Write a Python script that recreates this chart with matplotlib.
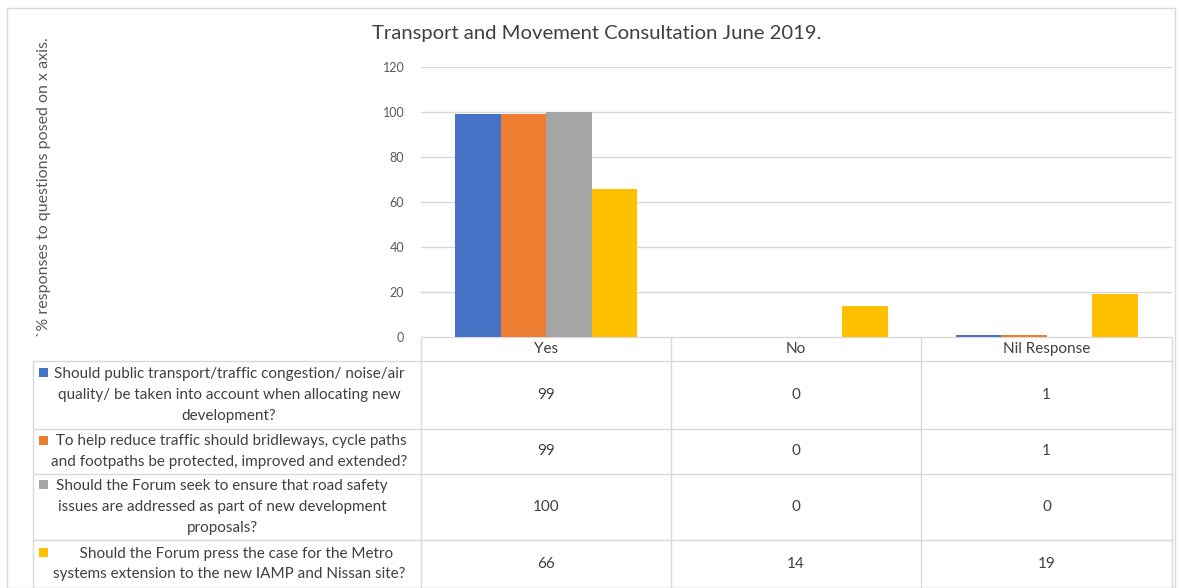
import matplotlib
matplotlib.use('Agg')
import matplotlib.pyplot as plt
import numpy as np
from matplotlib.patches import Rectangle

categories = ['Yes', 'No', 'Nil Response']
questions = [
    'Should public transport/traffic congestion/ noise/air\nquality/ be taken into account when allocating new\ndevelopment?',
    ' To help reduce traffic should bridleways, cycle paths\nand footpaths be protected, improved and extended?',
    'Should the Forum seek to ensure that road safety\nissues are addressed as part of new development\nproposals?',
    '    Should the Forum press the case for the Metro\nsystems extension to the new IAMP and Nissan site?',
]
q1 = [99, 0, 1]
q2 = [99, 0, 1]
q3 = [100, 0, 0]
q4 = [66, 14, 19]
series = [q1, q2, q3, q4]
colors = ['#4472C4', '#ED7D31', '#A5A5A5', '#FFC000']

W, H = 1181, 588
plt.rcParams['font.family'] = ['Lato', 'DejaVu Sans']
fig = plt.figure(figsize=(W / 100, H / 100), dpi=100)

# outer chart border
fig.patches.append(Rectangle((7 / W, 0), 1168 / W, 580 / H, transform=fig.transFigure,
                             fill=False, edgecolor='#d9d9d9', linewidth=1))

# plot area
x0, x1, ytop, ybot = 421, 1172, 67, 337
ax = fig.add_axes([x0 / W, 1 - ybot / H, (x1 - x0) / W, (ybot - ytop) / H])
n = len(series)
width = 0.182
x = np.arange(len(categories))
for i, (vals, c) in enumerate(zip(series, colors)):
    ax.bar(x + (i - (n - 1) / 2) * width, vals, width, color=c, zorder=3)
ax.set_xlim(-0.5, len(categories) - 0.5)
ax.set_ylim(0, 120)
ax.set_yticks(range(0, 121, 20))
ax.yaxis.grid(True, color='#d9d9d9', linewidth=1, zorder=0)
ax.set_xticks([])
for s in ax.spines.values():
    s.set_visible(False)
ax.tick_params(axis='y', length=0, labelsize=9, labelcolor='#595959', pad=12)

fig.text(597 / W, 1 - 34 / H, 'Transport and Movement Consultation June 2019.',
         ha='center', va='center', fontsize=14.6, color='#404040')
fig.text(44 / W, 1 - 187 / H, '`% responses to questions posed on x axis.',
         rotation=90, ha='center', va='center', fontsize=11.5, color='#595959')

# data table below the plot
tab = fig.add_axes([0, 0, 1, 1 - ybot / H])
tab.set_xlim(0, W)
tab.set_ylim(H, ybot)
tab.axis('off')
grid_c = '#d9d9d9'
col_edges = [x0, 671, 921, x1]
row_edges = [361, 429, 474, 540, 588]
text_cx = [229, 229, 222, 229]
tab.hlines(ybot, x0, x1, color=grid_c, lw=1)
tab.hlines(row_edges, 33, x1, color=grid_c, lw=1)
tab.vlines(col_edges, ybot, H, color=grid_c, lw=1)
tab.vlines(33, row_edges[0], H, color=grid_c, lw=1)
for j, cat in enumerate(categories):
    cx = (col_edges[j] + col_edges[j + 1]) / 2
    tab.text(cx, (ybot + row_edges[0]) / 2, cat, ha='center', va='center',
             fontsize=11, color='#404040')
for r, (q, vals, c) in enumerate(zip(questions, series, colors)):
    ya, yb = row_edges[r], row_edges[r + 1]
    ym = (ya + yb) / 2
    nlines = q.count('\n') + 1
    first = ym - (nlines - 1) * 11
    tab.add_patch(Rectangle((39, first - 4.5), 9, 9, color=c, lw=0))
    tab.text(text_cx[r], ym, q, ha='center', va='center', fontsize=11, color='#404040',
             linespacing=1.6)
    for j, v in enumerate(vals):
        cx = (col_edges[j] + col_edges[j + 1]) / 2
        tab.text(cx, ym, str(v), ha='center', va='center', fontsize=11, color='#404040')

fig.savefig('out.png', dpi=100)
